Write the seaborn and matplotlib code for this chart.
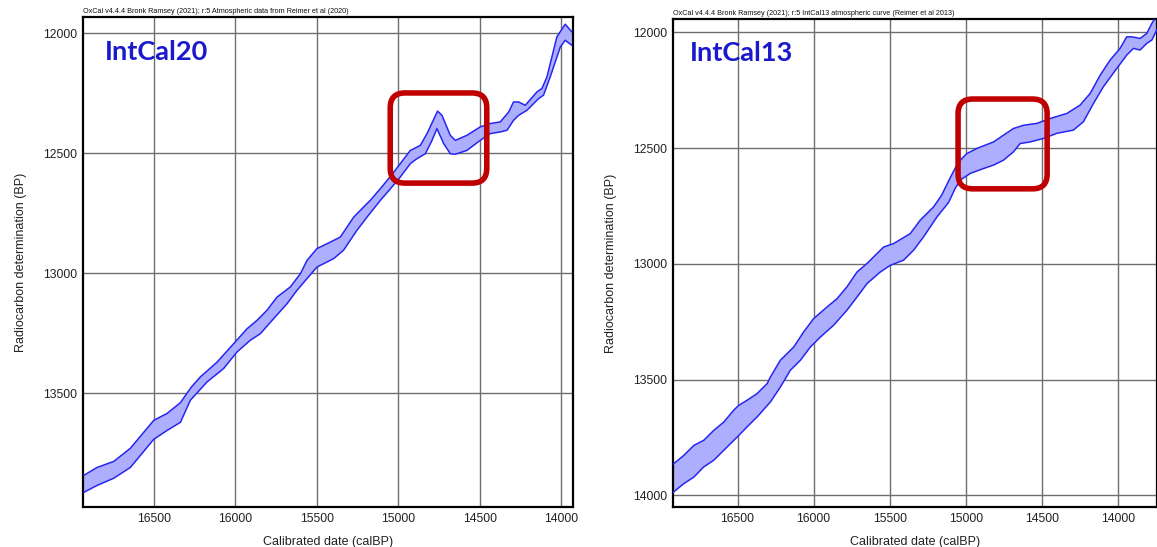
import numpy as np
import matplotlib
matplotlib.use("Agg")
import matplotlib.pyplot as plt
import seaborn as sns
from matplotlib.patches import FancyBboxPatch
from matplotlib.ticker import MultipleLocator, FuncFormatter

# ---------------- data ----------------
# IntCal20: upper (younger BP) and lower (older BP) envelope of the curve
i20_top_cal = [16930, 16848, 16746, 16644, 16501, 16419, 16337, 16270, 16215, 16112,
               16010, 15928, 15867, 15806, 15744, 15663, 15601, 15560, 15499, 15417,
               15356, 15274, 15213, 15172, 15100, 15040, 14988, 14926, 14865, 14824,
               14759, 14732, 14681, 14650, 14579, 14497, 14436, 14374, 14323, 14293,
               14262, 14221, 14149, 14119, 14088, 14027, 13976, 13935]
i20_top_bp = [13843, 13810, 13785, 13730, 13614, 13585, 13540, 13475, 13433, 13371,
              13294, 13232, 13197, 13155, 13100, 13058, 13003, 12947, 12898, 12871,
              12850, 12767, 12725, 12697, 12640, 12590, 12544, 12489, 12468, 12419,
              12325, 12343, 12426, 12447, 12426, 12391, 12377, 12370, 12329, 12287,
              12287, 12301, 12245, 12231, 12183, 12016, 11963, 11995]
i20_bot_cal = [16930, 16848, 16746, 16644, 16501, 16419, 16337, 16276, 16174, 16072,
               15990, 15908, 15847, 15765, 15683, 15622, 15560, 15499, 15397, 15336,
               15254, 15192, 15110, 15050, 14988, 14926, 14885, 14834, 14793, 14763,
               14722, 14681, 14650, 14579, 14497, 14436, 14374, 14333, 14293, 14262,
               14211, 14139, 14109, 14068, 14006, 13976, 13935]
i20_bot_bp = [13914, 13885, 13855, 13810, 13693, 13656, 13622, 13530, 13454, 13398,
              13329, 13280, 13253, 13190, 13128, 13072, 13023, 12975, 12940, 12905,
              12822, 12767, 12697, 12650, 12600, 12544, 12523, 12503, 12447, 12398,
              12460, 12503, 12505, 12489, 12447, 12419, 12412, 12405, 12364, 12343,
              12322, 12273, 12259, 12183, 12058, 12030, 12051]

# IntCal13 envelope
i13_top_cal = [16930, 16854, 16788, 16723, 16657, 16591, 16526, 16493, 16438, 16372,
               16306, 16284, 16219, 16131, 16066, 16000, 15912, 15846, 15781, 15715,
               15649, 15583, 15540, 15474, 15365, 15299, 15212, 15160, 15100, 15060,
               15036, 14992, 14926, 14817, 14752, 14686, 14620, 14532, 14445, 14335,
               14248, 14182, 14116, 14051, 13985, 13941, 13908, 13853, 13809, 13776,
               13745]
i13_top_bp = [13868, 13827, 13784, 13762, 13719, 13683, 13632, 13611, 13589, 13560,
              13517, 13488, 13416, 13359, 13294, 13236, 13186, 13150, 13099, 13035,
              12998, 12955, 12927, 12912, 12869, 12811, 12754, 12705, 12625, 12575,
              12552, 12523, 12501, 12473, 12444, 12415, 12401, 12393, 12372, 12350,
              12314, 12264, 12185, 12120, 12069, 12019, 12019, 12026, 12004, 11961,
              11930]
i13_bot_cal = [16930, 16854, 16788, 16723, 16657, 16591, 16503, 16438, 16372, 16284,
               16219, 16153, 16087, 16022, 15956, 15869, 15781, 15715, 15649, 15562,
               15496, 15409, 15343, 15277, 15189, 15113, 15070, 15036, 14970, 14883,
               14817, 14752, 14686, 14642, 14576, 14489, 14401, 14292, 14226, 14160,
               14095, 14007, 13941, 13897, 13853, 13809, 13776, 13740]
i13_bot_bp = [13990, 13949, 13921, 13877, 13848, 13805, 13748, 13704, 13661, 13596,
              13532, 13459, 13416, 13359, 13316, 13265, 13200, 13143, 13085, 13035,
              13006, 12984, 12941, 12883, 12797, 12735, 12675, 12638, 12609, 12588,
              12573, 12552, 12516, 12480, 12473, 12458, 12436, 12422, 12386, 12307,
              12235, 12156, 12098, 12069, 12076, 12047, 12033, 11985]

x_ticks = [16500, 16000, 15500, 15000, 14500, 14000]
titles = ["IntCal20", "IntCal13"]
headers = ["OxCal v4.4.4 Bronk Ramsey (2021); r:5 Atmospheric data from Reimer et al (2020)",
           "OxCal v4.4.4 Bronk Ramsey (2021); r:5 IntCal13 atmospheric curve (Reimer et al 2013)"]
x_label = "Calibrated date (calBP)"
y_label = "Radiocarbon determination (BP)"

# ---------------- style ----------------
sns.set_style("white")
plt.rcParams['font.family'] = ['Liberation Sans', 'DejaVu Sans']

FILL = "#aeaeff"
EDGE = "#2626f0"
GRID = "#6e6e6e"
RED = "#c00000"
TITLE_C = "#1a1acc"

fig = plt.figure(figsize=(11.57, 5.47), dpi=100)
ax1 = fig.add_axes([83 / 1157, 40 / 547, 490 / 1157, 490 / 547])
ax2 = fig.add_axes([673 / 1157, 40 / 547, 484 / 1157, 488 / 547])


def draw(ax, tc, tb, bc, bb, xlim, ylim, title, header, box, title_pos, ylabel_pad):
    ax.fill(list(tc) + list(bc[::-1]), list(tb) + list(bb[::-1]),
            color=FILL, lw=0, zorder=2)
    sns.lineplot(x=tc, y=tb, ax=ax, sort=False, color=EDGE, lw=1.1, zorder=3)
    sns.lineplot(x=bc, y=bb, ax=ax, sort=False, color=EDGE, lw=1.1, zorder=3)
    ax.set_xlim(*xlim)
    ax.set_ylim(*ylim)
    ax.set_xticks(x_ticks)
    ax.xaxis.set_minor_locator(MultipleLocator(50))
    ax.yaxis.set_major_locator(MultipleLocator(500))
    ax.yaxis.set_minor_locator(MultipleLocator(50))
    fmt = FuncFormatter(lambda v, p: f"{int(round(v))}")
    ax.xaxis.set_major_formatter(fmt)
    ax.yaxis.set_major_formatter(fmt)
    ax.grid(True, which='major', color=GRID, lw=1.0, zorder=0)
    ax.set_axisbelow(True)
    ax.tick_params(which='major', direction='in', length=6, width=1, labelsize=8.8,
                   top=False, right=False, pad=4, colors='#222222')
    ax.tick_params(which='minor', direction='in', length=3, width=0.8,
                   top=False, right=False, colors='#222222')
    for s in ax.spines.values():
        s.set_color("black")
        s.set_linewidth(1.6)
    ax.set_xlabel(x_label, fontsize=9, labelpad=8, color='#222222')
    ax.set_ylabel(y_label, fontsize=9, labelpad=ylabel_pad, color='#222222')
    ax.text(0.0, 1.004, header, transform=ax.transAxes, fontsize=5.2,
            va='bottom', ha='left', color='#111111')
    ax.text(title_pos[0], title_pos[1], title, transform=ax.transAxes,
            fontsize=19.5, fontweight='bold', color=TITLE_C, va='center', ha='left',
            family=['Lato', 'DejaVu Sans'])
    x0, y0, x1, y1 = box
    ax.add_patch(FancyBboxPatch((x0, y0), x1 - x0, y1 - y0,
                                boxstyle="round,pad=0,rounding_size=0.03",
                                transform=ax.transAxes, fill=False, ec=RED,
                                lw=4, zorder=6, clip_on=False))


draw(ax1, i20_top_cal, i20_top_bp, i20_bot_cal, i20_bot_bp,
     (16935, 13928), (13975, 11933), titles[0], headers[0],
     (0.627, 0.661, 0.824, 0.845), (0.045, 0.928), 12)
draw(ax2, i13_top_cal, i13_top_bp, i13_bot_cal, i13_bot_bp,
     (16925, 13742), (14050, 11942), titles[1], headers[1],
     (0.589, 0.652, 0.773, 0.836), (0.035, 0.931), 12)

fig.savefig("out.png", dpi=100)
